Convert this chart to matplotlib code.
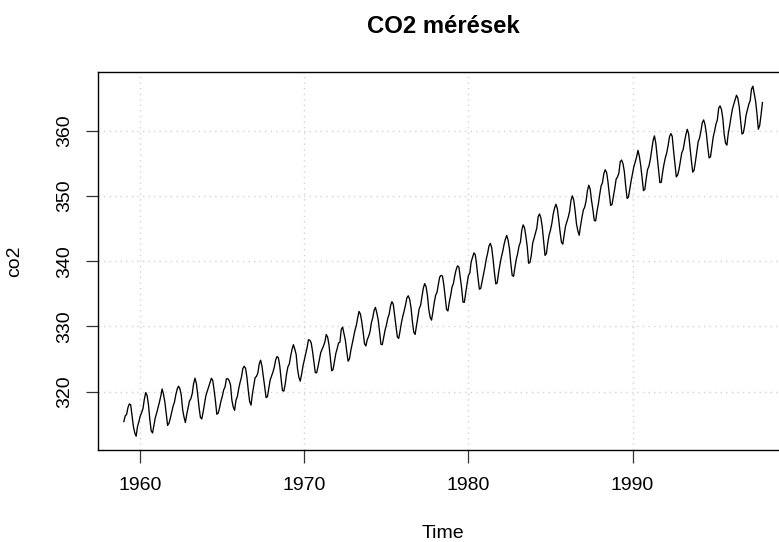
import numpy as np
import matplotlib
matplotlib.use("Agg")
import matplotlib.pyplot as plt

plt.rcParams['font.family'] = ['Liberation Sans', 'DejaVu Sans']

# Mauna Loa monthly CO2 concentrations (ppm), January 1959 onward
co2_1950s = [315.42, 316.31, 316.50, 317.56, 318.13, 318.00, 316.39, 314.65, 313.68, 313.18, 314.66, 315.43]
co2_1960s = [
    316.27, 316.81, 317.42, 318.87, 319.87, 319.43, 318.01, 315.74, 314.00, 313.68, 314.84, 316.03,
    316.73, 317.54, 318.38, 319.31, 320.42, 319.61, 318.42, 316.63, 314.83, 315.16, 315.94, 316.85,
    317.78, 318.40, 319.53, 320.42, 320.85, 320.45, 319.45, 317.25, 316.11, 315.27, 316.53, 317.53,
    318.58, 318.92, 319.70, 321.22, 322.08, 321.31, 319.58, 317.61, 316.05, 315.83, 316.91, 318.20,
    319.41, 320.07, 320.74, 321.40, 322.06, 321.73, 320.27, 318.54, 316.54, 316.71, 317.53, 318.55,
    319.27, 320.28, 320.73, 321.97, 322.00, 321.71, 321.05, 318.71, 317.66, 317.14, 318.70, 319.25,
    320.46, 321.43, 322.23, 323.54, 323.91, 323.59, 322.24, 320.20, 318.48, 317.94, 319.63, 320.87,
    322.17, 322.34, 322.88, 324.25, 324.83, 323.93, 322.38, 320.76, 319.10, 319.24, 320.56, 321.80,
    322.40, 322.99, 323.73, 324.86, 325.40, 325.20, 323.98, 321.95, 320.18, 320.09, 321.16, 322.74,
    323.83, 324.26, 325.47, 326.50, 327.21, 326.54, 325.72, 323.50, 322.22, 321.62, 322.69, 323.95,
]
co2_1970s = [
    324.89, 325.82, 326.77, 327.97, 327.91, 327.50, 326.18, 324.53, 322.93, 322.90, 323.85, 324.96,
    326.01, 326.51, 327.01, 327.62, 328.76, 328.40, 327.20, 325.27, 323.20, 323.40, 324.63, 325.85,
    326.60, 327.47, 327.58, 329.56, 329.90, 328.92, 327.88, 326.16, 324.68, 325.04, 326.34, 327.39,
    328.37, 329.40, 330.14, 331.33, 332.31, 331.90, 330.70, 329.15, 327.35, 327.02, 327.99, 328.48,
    329.18, 330.55, 331.32, 332.48, 332.92, 332.08, 331.01, 329.23, 327.27, 327.21, 328.29, 329.41,
    330.23, 331.25, 331.87, 333.14, 333.80, 333.43, 331.73, 329.90, 328.40, 328.17, 329.32, 330.59,
    331.58, 332.39, 333.33, 334.41, 334.71, 334.17, 332.89, 330.77, 329.14, 328.78, 330.14, 331.52,
    332.75, 333.24, 334.53, 335.90, 336.57, 336.10, 334.76, 332.59, 331.42, 330.98, 332.24, 333.68,
    334.80, 335.22, 336.47, 337.59, 337.84, 337.72, 336.37, 334.51, 332.60, 332.38, 333.75, 334.78,
    336.05, 336.59, 337.79, 338.71, 339.30, 339.12, 337.56, 335.92, 333.75, 333.70, 335.12, 336.56,
]
co2_1980s = [
    337.84, 338.19, 339.91, 340.60, 341.29, 341.00, 339.39, 337.43, 335.72, 335.84, 336.93, 338.04,
    339.06, 340.30, 341.21, 342.33, 342.74, 342.08, 340.32, 338.26, 336.52, 336.68, 338.19, 339.44,
    340.57, 341.44, 342.53, 343.39, 343.96, 343.18, 341.88, 339.65, 337.81, 337.69, 339.09, 340.32,
    341.20, 342.35, 342.93, 344.77, 345.58, 345.14, 343.81, 342.21, 339.69, 339.82, 340.98, 342.82,
    343.52, 344.33, 345.11, 346.88, 347.25, 346.62, 345.22, 343.11, 340.90, 341.18, 342.80, 344.04,
    344.79, 345.82, 347.25, 348.17, 348.74, 348.07, 346.38, 344.51, 342.92, 342.62, 344.06, 345.38,
    346.11, 346.78, 347.68, 349.37, 350.03, 349.37, 347.76, 345.73, 344.68, 343.99, 345.48, 346.72,
    347.84, 348.29, 349.23, 350.80, 351.66, 351.07, 349.33, 347.92, 346.27, 346.18, 347.64, 348.78,
    350.25, 351.54, 352.05, 353.41, 354.04, 353.62, 352.22, 350.27, 348.55, 348.72, 349.91, 351.18,
    352.60, 352.92, 353.53, 355.26, 355.52, 354.97, 353.75, 351.52, 349.64, 349.83, 351.14, 352.37,
]
co2_1990s = [
    353.50, 354.55, 355.23, 356.04, 357.00, 356.07, 354.67, 352.76, 350.82, 351.04, 352.69, 354.07,
    354.59, 355.63, 357.03, 358.48, 359.22, 358.12, 356.06, 353.92, 352.05, 352.11, 353.64, 354.89,
    355.88, 356.63, 357.72, 359.07, 359.58, 359.17, 356.94, 354.92, 352.94, 353.23, 354.09, 355.33,
    356.63, 357.10, 358.32, 359.41, 360.23, 359.55, 357.53, 355.48, 353.67, 353.95, 355.30, 356.78,
    358.34, 358.89, 359.95, 361.25, 361.67, 360.94, 359.55, 357.49, 355.84, 356.00, 357.59, 359.05,
    359.98, 361.03, 361.66, 363.48, 363.82, 363.30, 361.94, 359.50, 358.11, 357.80, 359.61, 360.74,
    362.09, 363.29, 364.06, 364.76, 365.45, 365.01, 363.70, 361.54, 359.51, 359.65, 360.80, 362.38,
    363.23, 364.06, 364.61, 366.40, 366.84, 365.68, 364.52, 362.57, 360.24, 360.83, 362.49, 364.34,
]

start_year = 1959
x_ticks = [1960, 1970, 1980, 1990]
y_ticks = [320, 330, 340, 350, 360]

co2 = np.array(co2_1950s + co2_1960s + co2_1970s + co2_1980s + co2_1990s)
time = start_year + np.arange(len(co2)) / 12.0

W, H = 779, 542
fig = plt.figure(figsize=(W / 100, H / 100), dpi=100)

# plot region in pixels (right edge runs past the figure)
left_px, right_px, top_px, bottom_px = 98.3, 788.0, 72.2, 450.2
ax = fig.add_axes([left_px / W, 1 - bottom_px / H,
                   (right_px - left_px) / W, (bottom_px - top_px) / H])

# 4% padding around the data range on both axes
def padded(lo, hi):
    d = (hi - lo) * 0.04
    return lo - d, hi + d

ax.set_xlim(*padded(time.min(), time.max()))
ax.set_ylim(*padded(co2.min(), co2.max()))

for xv in x_ticks:
    ax.axvline(xv, color='#d3d3d3', lw=1.0, ls=(0, (1, 3)), zorder=1)
for yv in y_ticks:
    ax.axhline(yv, color='#d3d3d3', lw=1.0, ls=(0, (1, 3)), zorder=1)

ax.plot(time, co2, color='black', lw=0.95, zorder=3)

ax.set_xticks(x_ticks)
ax.set_yticks(y_ticks)
ax.set_xticklabels([str(v) for v in x_ticks])
ax.set_yticklabels([str(v) for v in y_ticks], rotation=90, va='center')
ax.tick_params(axis='both', direction='out', length=9, width=0.9,
               labelsize=14.0, color='#333333')
ax.tick_params(axis='x', pad=10)
ax.tick_params(axis='y', pad=9)

for sp in ax.spines.values():
    sp.set_linewidth(1.0)
    sp.set_color('black')

fig.text((left_px + right_px) / 2 / W, 1 - 33 / H, 'CO2 mérések',
         ha='center', va='baseline', fontsize=17.2, fontweight='bold')
fig.text((left_px + right_px) / 2 / W, 1 - 538 / H, 'Time',
         ha='center', va='baseline', fontsize=14.0)
fig.text(23 / W, 1 - (top_px + bottom_px) / 2 / H, 'co2',
         ha='right', va='center', rotation=90, fontsize=14.0)

fig.savefig('out.png', dpi=100)
